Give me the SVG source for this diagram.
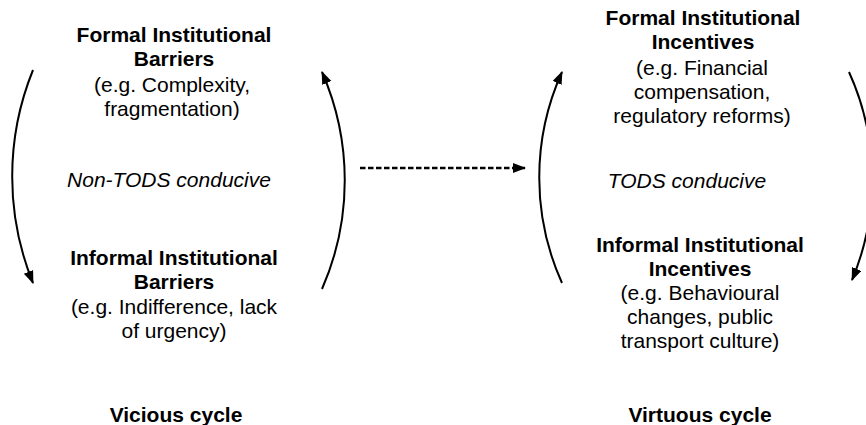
<svg xmlns="http://www.w3.org/2000/svg" width="866" height="425" viewBox="0 0 866 425">
<style>
text{font-family:"Liberation Sans",Arial,Helvetica,sans-serif;font-size:21px;fill:#000;text-anchor:middle}
.b{font-weight:bold}
.i{font-style:italic}
.arc{fill:none;stroke:#000;stroke-width:2}
.dash{fill:none;stroke:#000;stroke-width:2.5;stroke-dasharray:5.5 2.5}
</style>
<defs>
<marker id="ah" markerUnits="userSpaceOnUse" markerWidth="13" markerHeight="11" refX="12" refY="5" orient="auto">
<path d="M0,0 L13,5 L0,10 z" fill="#000"/>
</marker>
</defs>
<rect width="866" height="425" fill="#fff"/>
<g id="connectors">
<path class="arc" d="M33,70 A283,283 0 0 0 33,283" marker-end="url(#ah)"/>
<path class="arc" d="M322,289 A270,270 0 0 0 322,72" marker-end="url(#ah)"/>
<path class="arc" d="M562,283 A256,256 0 0 1 562,72" marker-end="url(#ah)"/>
<path class="arc" d="M849,72 A260,260 0 0 1 852,280" marker-end="url(#ah)"/>
<path class="dash" d="M360,168 L525,168" marker-end="url(#ah)"/>
</g>
<g id="formal-barriers">
<text class="b" x="174" y="41.5">Formal Institutional</text>
<text class="b" x="174" y="65.5">Barriers</text>
<text x="172" y="91.5">(e.g. Complexity,</text>
<text x="172" y="115.5">fragmentation)</text>
</g>
<g id="non-tods-label">
<text class="i" x="169" y="186.5">Non-TODS conducive</text>
</g>
<g id="informal-barriers">
<text class="b" x="174" y="265">Informal Institutional</text>
<text class="b" x="174" y="289">Barriers</text>
<text x="174" y="313.5">(e.g. Indifference, lack</text>
<text x="174" y="337.5">of urgency)</text>
</g>
<g id="vicious-cycle">
<text class="b" x="176" y="422">Vicious cycle</text>
</g>
<g id="formal-incentives">
<text class="b" x="703" y="25">Formal Institutional</text>
<text class="b" x="703" y="49">Incentives</text>
<text x="702" y="74.5">(e.g. Financial</text>
<text x="702" y="98.5">compensation,</text>
<text x="702" y="122.5">regulatory reforms)</text>
</g>
<g id="tods-label">
<text class="i" x="687" y="188">TODS conducive</text>
</g>
<g id="informal-incentives">
<text class="b" x="700" y="251.5">Informal Institutional</text>
<text class="b" x="700" y="275.5">Incentives</text>
<text x="700" y="300">(e.g. Behavioural</text>
<text x="700" y="324">changes, public</text>
<text x="700" y="348">transport culture)</text>
</g>
<g id="virtuous-cycle">
<text class="b" x="700" y="422">Virtuous cycle</text>
</g>
</svg>
